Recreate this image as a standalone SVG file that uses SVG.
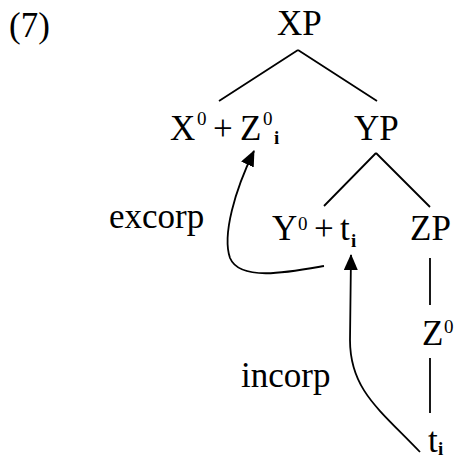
<svg xmlns="http://www.w3.org/2000/svg" width="454" height="459" viewBox="0 0 454 459">
<style>
text{font-family:"Liberation Serif","Times New Roman",serif;fill:#000}
.m{font-size:35px}
.s{font-size:19px}
.e{stroke:#000;stroke-width:1.8;fill:none}
</style>
<defs>
<marker id="ah" markerUnits="userSpaceOnUse" markerWidth="16" markerHeight="14" viewBox="0 0 16 14" refX="15" refY="7" orient="auto">
<path d="M0,0 L16,7 L0,14 z" fill="#000"/>
</marker>
</defs>
<rect width="454" height="459" fill="#fff"/>
<text class="m" x="9" y="37">(7)</text>
<g id="XP"><text class="m" x="277" y="35">XP</text></g>
<g id="X0Z0i"><text class="m" x="170" y="140">X</text><text class="s" x="197" y="125">0</text><text class="m" x="213" y="140">+</text><text class="m" x="240" y="140">Z</text><text class="s" x="263" y="125">0</text><text class="s" x="274" y="144" font-weight="bold">i</text></g>
<g id="YP"><text class="m" x="354" y="140">YP</text></g>
<g id="Y0ti"><text class="m" x="272" y="240">Y</text><text class="s" x="298" y="230">0</text><text class="m" x="314" y="240">+</text><text class="m" x="340" y="240">t</text><text class="s" x="351" y="247" font-weight="bold">i</text></g>
<g id="ZP"><text class="m" x="410" y="240">ZP</text></g>
<g id="Z0"><text class="m" x="422" y="345">Z</text><text class="s" x="444" y="333">0</text></g>
<g id="ti"><text class="m" x="428" y="452">t</text><text class="s" x="438" y="455" font-weight="bold">i</text></g>
<g id="labels"><text class="m" x="109" y="228">excorp</text><text class="m" x="241" y="387">incorp</text></g>
<g id="connectors">
<path class="e" d="M298,50 L219,101 M298,50 L377,101"/>
<path class="e" d="M376,153 L324,206 M376,153 L430,207"/>
<path class="e" d="M430,258 L430,305 M430,358 L430,413"/>
<path class="e" d="M324,266 C290,272 240,282 230,258 C222,235 235,190 254,151" marker-end="url(#ah)"/>
<path class="e" d="M420,452 C380,410 350,390 350,340 L351,255" marker-end="url(#ah)"/>
</g>
</svg>
